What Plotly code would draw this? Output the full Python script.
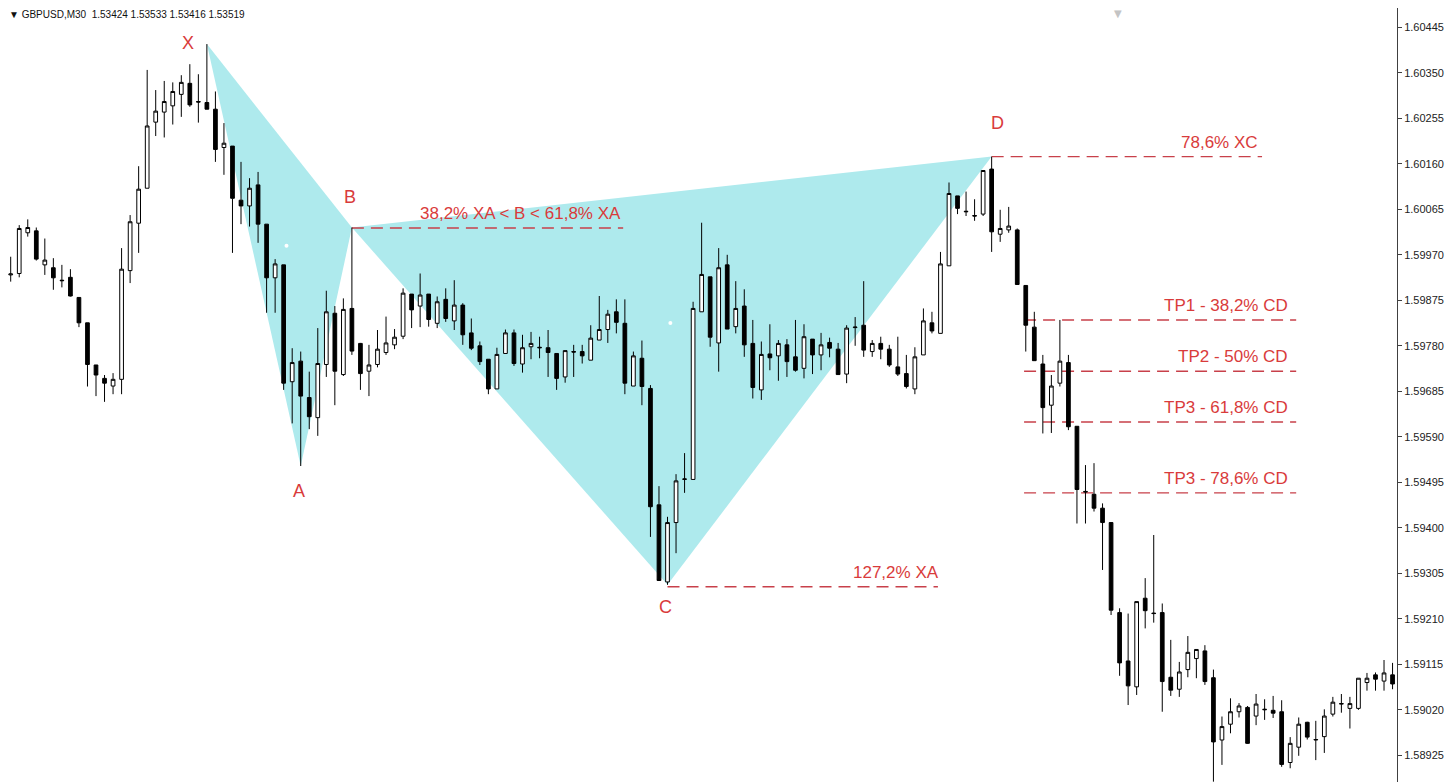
import plotly.graph_objects as go

title_text = "▼ GBPUSD,M30  1.53424 1.53533 1.53416 1.53519"

opens = [
    1.59928, 1.59931, 1.60016, 1.60020, 1.59949, 1.59943, 1.59917, 1.59923, 1.59881, 1.59828,
    1.59740, 1.59712, 1.59696, 1.59710, 1.59937, 1.60036, 1.60109, 1.60247, 1.60268, 1.60281,
    1.60305, 1.60328, 1.60290, 1.60288, 1.60274, 1.60194, 1.60197, 1.60084, 1.60072, 1.60116,
    1.60034, 1.59922, 1.59949, 1.59705, 1.59748, 1.59672, 1.59630, 1.59741, 1.59848, 1.59720,
    1.59858, 1.59785, 1.59727, 1.59741, 1.59766, 1.59782, 1.59800, 1.59888, 1.59863, 1.59888,
    1.59827, 1.59877, 1.59832, 1.59865, 1.59807, 1.59780, 1.59752, 1.59690, 1.59764, 1.59807,
    1.59742, 1.59778, 1.59777, 1.59776, 1.59764, 1.59715, 1.59768, 1.59768, 1.59750, 1.59792,
    1.59814, 1.59851, 1.59827, 1.59696, 1.59754, 1.59691, 1.59448, 1.59287, 1.59411, 1.59501,
    1.59501, 1.59851, 1.59924, 1.59786, 1.59949, 1.59820, 1.59863, 1.59785, 1.59688, 1.59763,
    1.59759, 1.59782, 1.59757, 1.59733, 1.59794, 1.59761, 1.59787, 1.59773, 1.59721, 1.59818,
    1.59823, 1.59768, 1.59785, 1.59773, 1.59736, 1.59722, 1.59690, 1.59761, 1.59828, 1.59806,
    1.59947, 1.60093, 1.60061, 1.60052, 1.60055, 1.60149, 1.60013, 1.60022, 1.60022, 1.59906,
    1.59819, 1.59742, 1.59656, 1.59702, 1.59745, 1.59612, 1.59476, 1.59470, 1.59441, 1.59411,
    1.59223, 1.59122, 1.59068, 1.59253, 1.59222, 1.59223, 1.59088, 1.59063, 1.59104, 1.59127,
    1.59143, 1.59087, 1.58957, 1.58990, 1.59016, 1.59025, 1.59007, 1.59020, 1.59019, 1.59016,
    1.58910, 1.58942, 1.58994, 1.58957, 1.58964, 1.59011, 1.59032, 1.59023, 1.59023, 1.59077,
    1.59093, 1.59080, 1.59093,
]

highs = [
    1.59966, 1.60032, 1.60044, 1.60027, 1.60004, 1.59963, 1.59949, 1.59940, 1.59881, 1.59828,
    1.59740, 1.59719, 1.59723, 1.59984, 1.60053, 1.60155, 1.60356, 1.60314, 1.60333, 1.60330,
    1.60345, 1.60368, 1.60347, 1.60410, 1.60311, 1.60245, 1.60197, 1.60164, 1.60130, 1.60143,
    1.60034, 1.59961, 1.59949, 1.59775, 1.59768, 1.59726, 1.59817, 1.59895, 1.59863, 1.59879,
    1.60027, 1.59786, 1.59782, 1.59813, 1.59841, 1.59815, 1.59900, 1.59888, 1.59931, 1.59888,
    1.59883, 1.59900, 1.59917, 1.59869, 1.59837, 1.59789, 1.59752, 1.59776, 1.59814, 1.59814,
    1.59803, 1.59809, 1.59799, 1.59813, 1.59764, 1.59770, 1.59782, 1.59782, 1.59823, 1.59884,
    1.59855, 1.59877, 1.59877, 1.59768, 1.59791, 1.59698, 1.59487, 1.59423, 1.59512, 1.59556,
    1.59872, 1.60037, 1.59924, 1.59984, 1.59970, 1.59915, 1.59898, 1.59834, 1.59789, 1.59825,
    1.59792, 1.59794, 1.59834, 1.59825, 1.59794, 1.59807, 1.59797, 1.59786, 1.59823, 1.59840,
    1.59915, 1.59792, 1.59799, 1.59782, 1.59799, 1.59761, 1.59777, 1.59858, 1.59851, 1.59976,
    1.60121, 1.60093, 1.60102, 1.60086, 1.60146, 1.60175, 1.60064, 1.60070, 1.60025, 1.59906,
    1.59851, 1.59761, 1.59719, 1.59834, 1.59761, 1.59612, 1.59531, 1.59535, 1.59451, 1.59411,
    1.59232, 1.59221, 1.59246, 1.59295, 1.59385, 1.59242, 1.59166, 1.59120, 1.59174, 1.59146,
    1.59155, 1.59104, 1.59006, 1.59044, 1.59034, 1.59028, 1.59053, 1.59042, 1.59049, 1.59040,
    1.58963, 1.59004, 1.58995, 1.58997, 1.59021, 1.59047, 1.59053, 1.59047, 1.59086, 1.59097,
    1.59098, 1.59124, 1.59118,
]

lows = [
    1.59914, 1.59923, 1.60008, 1.59958, 1.59928, 1.59897, 1.59902, 1.59883, 1.59819, 1.59695,
    1.59675, 1.59663, 1.59679, 1.59679, 1.59911, 1.59974, 1.60109, 1.60218, 1.60215, 1.60242,
    1.60258, 1.60279, 1.60246, 1.60274, 1.60164, 1.60137, 1.59974, 1.60034, 1.60029, 1.59995,
    1.59849, 1.59849, 1.59688, 1.59618, 1.59529, 1.59606, 1.59592, 1.59715, 1.59656, 1.59717,
    1.59761, 1.59688, 1.59675, 1.59735, 1.59761, 1.59773, 1.59794, 1.59817, 1.59819, 1.59820,
    1.59817, 1.59830, 1.59813, 1.59782, 1.59771, 1.59740, 1.59679, 1.59690, 1.59764, 1.59738,
    1.59724, 1.59752, 1.59754, 1.59715, 1.59688, 1.59703, 1.59715, 1.59743, 1.59750, 1.59792,
    1.59786, 1.59806, 1.59679, 1.59696, 1.59656, 1.59381, 1.59290, 1.59281, 1.59347, 1.59473,
    1.59501, 1.59851, 1.59778, 1.59726, 1.59815, 1.59806, 1.59757, 1.59670, 1.59667, 1.59729,
    1.59707, 1.59715, 1.59726, 1.59712, 1.59721, 1.59729, 1.59756, 1.59719, 1.59702, 1.59780,
    1.59757, 1.59757, 1.59752, 1.59736, 1.59717, 1.59691, 1.59679, 1.59761, 1.59806, 1.59806,
    1.59947, 1.60055, 1.60051, 1.60041, 1.60051, 1.59976, 1.59997, 1.60016, 1.59908, 1.59768,
    1.59749, 1.59597, 1.59598, 1.59695, 1.59604, 1.59409, 1.59409, 1.59434, 1.59312, 1.59218,
    1.59091, 1.59030, 1.59051, 1.59190, 1.59202, 1.59016, 1.59049, 1.59047, 1.59088, 1.59086,
    1.59072, 1.58870, 1.58905, 1.58971, 1.59004, 1.58949, 1.58988, 1.58999, 1.59003, 1.58901,
    1.58898, 1.58924, 1.58958, 1.58915, 1.58930, 1.59006, 1.59014, 1.58981, 1.59020, 1.59060,
    1.59060, 1.59060, 1.59063,
]

closes = [
    1.59930, 1.60025, 1.60027, 1.59961, 1.59959, 1.59922, 1.59916, 1.59884, 1.59828, 1.59741,
    1.59719, 1.59702, 1.59710, 1.59940, 1.60039, 1.60107, 1.60239, 1.60270, 1.60290, 1.60311,
    1.60330, 1.60283, 1.60289, 1.60274, 1.60190, 1.60203, 1.60088, 1.60072, 1.60109, 1.60034,
    1.59922, 1.59951, 1.59702, 1.59745, 1.59675, 1.59632, 1.59743, 1.59851, 1.59727, 1.59856,
    1.59769, 1.59722, 1.59740, 1.59773, 1.59786, 1.59798, 1.59890, 1.59855, 1.59886, 1.59835,
    1.59872, 1.59837, 1.59865, 1.59803, 1.59775, 1.59747, 1.59690, 1.59762, 1.59807, 1.59743,
    1.59776, 1.59785, 1.59776, 1.59766, 1.59712, 1.59770, 1.59767, 1.59759, 1.59796, 1.59814,
    1.59846, 1.59829, 1.59702, 1.59759, 1.59695, 1.59444, 1.59290, 1.59411, 1.59498, 1.59502,
    1.59858, 1.59929, 1.59798, 1.59943, 1.59815, 1.59858, 1.59782, 1.59693, 1.59762, 1.59755,
    1.59785, 1.59747, 1.59729, 1.59799, 1.59761, 1.59782, 1.59775, 1.59720, 1.59817, 1.59819,
    1.59771, 1.59785, 1.59773, 1.59740, 1.59721, 1.59695, 1.59757, 1.59832, 1.59811, 1.59951,
    1.60098, 1.60067, 1.60060, 1.60051, 1.60146, 1.60018, 1.60025, 1.60030, 1.59908, 1.59823,
    1.59749, 1.59651, 1.59696, 1.59748, 1.59611, 1.59480, 1.59475, 1.59441, 1.59411, 1.59228,
    1.59118, 1.59070, 1.59246, 1.59227, 1.59221, 1.59079, 1.59061, 1.59099, 1.59140, 1.59146,
    1.59079, 1.58953, 1.58985, 1.59016, 1.59028, 1.58950, 1.59032, 1.59021, 1.59013, 1.58906,
    1.58950, 1.58990, 1.58963, 1.58958, 1.59007, 1.59036, 1.59033, 1.59033, 1.59086, 1.59086,
    1.59084, 1.59097, 1.59074,
]

# Harmonic (Cypher) pattern points: candle index and price
pattern_names = ["X", "A", "B", "C", "D"]
pattern_idx = [23, 34, 40, 77, 115]
pattern_price = [1.60410, 1.59529, 1.60027, 1.59281, 1.60175]

# Fibonacci / target levels
level_labels = ["38,2% XA < B < 61,8% XA", "127,2% XA", "78,6% XC",
                "TP1 - 38,2% CD", "TP2 - 50% CD", "TP3 - 61,8% CD", "TP3 - 78,6% CD"]
level_prices = [1.60026, 1.59277, 1.60175, 1.59834, 1.59727, 1.59621, 1.59473]
level_start = [40, 77, 115, 118.8, 118.8, 118.8, 118.8]
level_end = [71.8, 108.7, 146.7, 150.7, 150.7, 150.7, 150.7]

tick_vals = [1.60445, 1.60350, 1.60255, 1.60160, 1.60065, 1.59970, 1.59875, 1.59780,
             1.59685, 1.59590, 1.59495, 1.59400, 1.59305, 1.59210, 1.59115, 1.59020, 1.58925]
tick_labels = ["1.60445", "1.60350", "1.60255", "1.60160", "1.60065", "1.59970", "1.59875",
               "1.59780", "1.59685", "1.59590", "1.59495", "1.59400", "1.59305", "1.59210",
               "1.59115", "1.59020", "1.58925"]

x_idx = list(range(len(opens)))

FILL = "#aeeaed"
RED_TXT = "#d93b3b"
RED_LINE = "#c8404a"

fig = go.Figure()
shapes = []

# pattern triangles XAB and BCD (drawn beneath the candles)
centroids_x, centroids_y = [], []
for tri in [(0, 1, 2), (2, 3, 4)]:
    pts = [(pattern_idx[i], pattern_price[i]) for i in tri]
    path = "M {},{} L {},{} L {},{} Z".format(*[c for p in pts for c in p])
    shapes.append(dict(type="path", path=path, xref="x", yref="y", fillcolor=FILL,
                       line=dict(width=0), layer="below"))
    centroids_x.append(sum(p[0] for p in pts) / 3)
    centroids_y.append(sum(p[1] for p in pts) / 3)

# dashed level lines
for lp, ls, le in zip(level_prices, level_start, level_end):
    shapes.append(dict(type="line", xref="x", yref="y", x0=ls, x1=le, y0=lp, y1=lp,
                       line=dict(color=RED_LINE, width=1.4, dash="12px,7px"), layer="below"))

# candles
fig.add_trace(go.Candlestick(
    x=x_idx, open=opens, high=highs, low=lows, close=closes,
    increasing=dict(fillcolor="white", line=dict(color="black", width=1)),
    decreasing=dict(fillcolor="black", line=dict(color="black", width=1)),
    whiskerwidth=0, hoverinfo="skip",
))

fig.add_trace(go.Scatter(x=centroids_x, y=centroids_y, mode="markers",
                         marker=dict(size=4, color="white"), hoverinfo="skip"))

annotations = []
label_offsets = {"X": (-19, 1), "A": (-2, -25), "B": (-2, 31), "C": (-2, -22), "D": (6, 34)}
for name, xi, pr in zip(pattern_names, pattern_idx, pattern_price):
    dx, dy = label_offsets[name]
    annotations.append(dict(x=xi, y=pr, xref="x", yref="y", text=name, showarrow=False,
                            xshift=dx, yshift=dy,
                            font=dict(family="Liberation Sans, Arial", size=18, color=RED_TXT)))

label_xshift = [0, 3, -2, -6, -6, -6, -6]
for lab, lp, le, dx in zip(level_labels, level_prices, level_end, label_xshift):
    annotations.append(dict(x=le, y=lp, xref="x", yref="y", text=lab, showarrow=False,
                            xanchor="right", yanchor="bottom", xshift=dx, yshift=3,
                            font=dict(family="Liberation Sans, Arial", size=17, color=RED_TXT)))

annotations.append(dict(x=0, y=1, xref="paper", yref="paper", text=title_text, showarrow=False,
                        xanchor="left", yanchor="middle", xshift=-1, yshift=-6,
                        font=dict(family="Liberation Sans, Arial", size=10, color="#111111")))
annotations.append(dict(x=1110 / 1389, y=1, xref="paper", yref="paper", text="▼", showarrow=False,
                        xanchor="center", yanchor="top", yshift=2,
                        font=dict(family="DejaVu Sans", size=10, color="#c4c4c4")))

# page has an 8px body margin, so the figure covers page pixels 8..1456 x 8..782
fig.update_layout(
    width=1448, height=774,
    margin=dict(l=0, r=59, t=0, b=0),
    paper_bgcolor="white", plot_bgcolor="white",
    showlegend=False,
    boxgap=0.38,
    shapes=shapes,
    annotations=annotations,
    xaxis=dict(range=[-0.3165, 162.52], visible=False, rangeslider=dict(visible=False),
               showgrid=False, zeroline=False),
    yaxis=dict(range=[1.588693, 1.604853], side="right", tickvals=tick_vals, ticktext=tick_labels,
               ticks="outside", ticklen=4, tickcolor="#404040", showline=True, linecolor="#404040",
               linewidth=1, showgrid=False, zeroline=False,
               tickfont=dict(family="Liberation Sans, Arial", size=11, color="#222222")),
)

fig.write_html("out.html")
